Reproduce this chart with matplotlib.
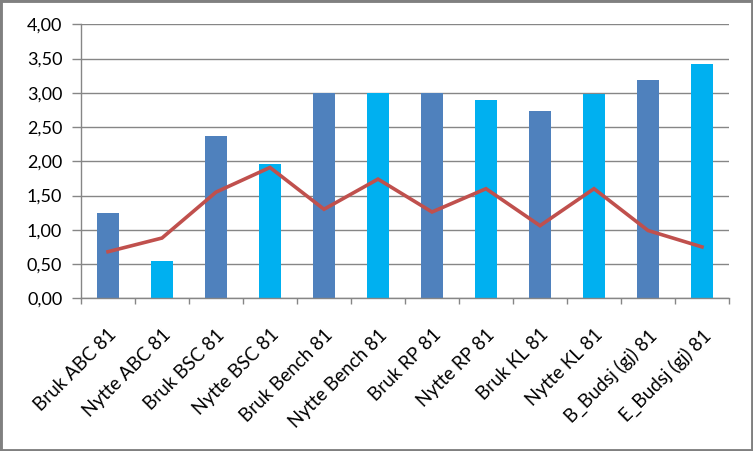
import matplotlib
matplotlib.use("Agg")
import matplotlib.pyplot as plt
from matplotlib.patches import Rectangle
import numpy as np

categories = ["Bruk ABC 81", "Nytte ABC 81", "Bruk BSC 81", "Nytte BSC 81",
              "Bruk Bench 81", "Nytte Bench 81", "Bruk RP 81", "Nytte RP 81",
              "Bruk KL 81", "Nytte KL 81", "B_Budsj (gj) 81", "E_Budsj (gj) 81"]
bar_values = [1.25, 0.55, 2.37, 1.96, 3.00, 3.00, 3.00, 2.89, 2.73, 2.98, 3.19, 3.42]
line_values = [0.68, 0.88, 1.55, 1.91, 1.30, 1.74, 1.26, 1.60, 1.06, 1.60, 0.99, 0.75]
bar_colors = ["#4F81BD", "#00B0F0"] * 6
yticks = [0.0, 0.5, 1.0, 1.5, 2.0, 2.5, 3.0, 3.5, 4.0]
ytick_labels = ["0,00", "0,50", "1,00", "1,50", "2,00", "2,50", "3,00", "3,50", "4,00"]

plt.rcParams['font.family'] = ['Lato', 'DejaVu Sans']

fig = plt.figure(figsize=(7.53, 4.51), dpi=100)
ax = fig.add_axes([81/753, 1 - 298.3/451, 648/753, 274/451])

x = np.arange(len(categories))
ax.bar(x, bar_values, width=0.41, color=bar_colors, zorder=2)
ax.plot(x, line_values, color="#C0504D", linewidth=2.6, zorder=3, solid_joinstyle='miter')

ax.set_xlim(-0.5, len(categories) - 0.5)
ax.set_ylim(0, 4.0)
ax.set_yticks(yticks)
ax.set_yticklabels(ytick_labels, fontsize=13)
ax.yaxis.grid(True, color="#868686", linewidth=1.0, zorder=0)
ax.set_axisbelow(True)

ax.set_xticks(np.arange(-0.5, len(categories), 1.0))
ax.set_xticklabels([])
ax.set_xticks(x, minor=True)
ax.set_xticklabels(categories, minor=True, rotation=45, ha='right', va='top',
                   rotation_mode='anchor', fontsize=13.5)
ax.tick_params(axis='x', which='minor', length=0, pad=20)
ax.tick_params(axis='x', which='major', length=4.5, color="#868686", width=1.0)
ax.tick_params(axis='y', length=6.5, color="#868686", width=1.0, pad=7)

for s in ['top', 'right']:
    ax.spines[s].set_visible(False)
for s in ['left', 'bottom']:
    ax.spines[s].set_color("#868686")
    ax.spines[s].set_linewidth(1.0)

fig.patches.append(Rectangle((0, 0), 1, 1, transform=fig.transFigure,
                             fill=False, edgecolor="#808080", linewidth=3.5))

fig.savefig("out.png", dpi=100)
